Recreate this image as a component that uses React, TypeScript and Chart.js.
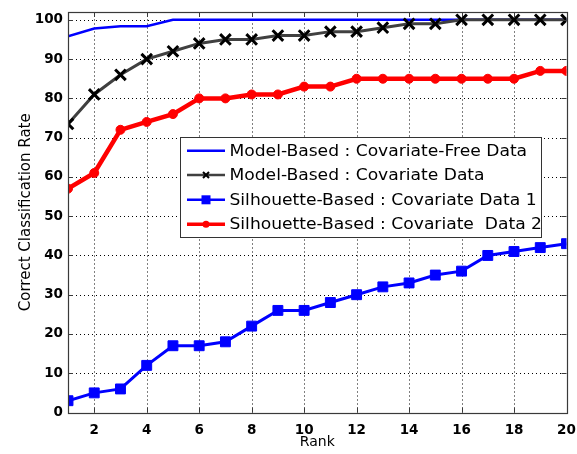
import React, { useEffect, useRef } from "react";
import { Chart, registerables } from "chart.js";

Chart.register(...registerables);

const ranks = [1, 2, 3, 4, 5, 6, 7, 8, 9, 10, 11, 12, 13, 14, 15, 16, 17, 18, 19, 20];
const modelFree = [95.8, 97.8, 98.4, 98.4, 100, 100, 100, 100, 100, 100, 100, 100, 100, 100, 100, 100, 100, 100, 100, 100];
const modelCov = [73.5, 81, 86, 90, 92, 94, 95, 95, 96, 96, 97, 97, 98, 99, 99, 100, 100, 100, 100, 100];
const silCov1 = [3, 5, 6, 12, 17, 17, 18, 22, 26, 26, 28, 30, 32, 33, 35, 36, 40, 41, 42, 43];
const silCov2 = [57, 61, 72, 74, 76, 80, 80, 81, 81, 83, 83, 85, 85, 85, 85, 85, 85, 85, 87, 87];
const seriesNames = [
  "Model-Based : Covariate-Free Data",
  "Model-Based : Covariate Data",
  "Silhouette-Based : Covariate Data 1",
  "Silhouette-Based : Covariate  Data 2",
];
const xTicks = [2, 4, 6, 8, 10, 12, 14, 16, 18, 20];
const yTicks = [0, 10, 20, 30, 40, 50, 60, 70, 80, 90, 100];

const FONT = "'DejaVu Sans', 'Liberation Sans', sans-serif";

const toXY = (vals: number[]) => vals.map((v, i) => ({ x: ranks[i], y: v }));

const framePlugin = {
  id: "frame",
  beforeDatasetsDraw(chart: any) {
    const { ctx, chartArea: a, scales } = chart;
    ctx.save();
    ctx.strokeStyle = "#000000";
    ctx.lineWidth = 1;
    ctx.setLineDash([1, 3]);
    ctx.beginPath();
    xTicks.forEach((t) => {
      const px = Math.round(scales.x.getPixelForValue(t)) + 0.5;
      ctx.moveTo(px, a.bottom);
      ctx.lineTo(px, a.top);
    });
    yTicks.forEach((t) => {
      const py = Math.round(scales.y.getPixelForValue(t)) + 0.5;
      ctx.moveTo(a.left, py);
      ctx.lineTo(a.right, py);
    });
    ctx.stroke();
    ctx.restore();
  },
  afterDatasetsDraw(chart: any) {
    const { ctx, chartArea: a, scales } = chart;
    ctx.save();
    ctx.strokeStyle = "#3a3a3a";
    ctx.lineWidth = 1;
    ctx.beginPath();
    const tl = 5;
    xTicks.forEach((t) => {
      const px = Math.round(scales.x.getPixelForValue(t)) + 0.5;
      ctx.moveTo(px, a.bottom);
      ctx.lineTo(px, a.bottom - tl);
      ctx.moveTo(px, a.top);
      ctx.lineTo(px, a.top + tl);
    });
    yTicks.forEach((t) => {
      const py = Math.round(scales.y.getPixelForValue(t)) + 0.5;
      ctx.moveTo(a.left, py);
      ctx.lineTo(a.left + tl, py);
      ctx.moveTo(a.right, py);
      ctx.lineTo(a.right - tl, py);
    });
    ctx.stroke();
    ctx.lineWidth = 1.2;
    ctx.strokeRect(Math.round(a.left) + 0.5, Math.round(a.top) + 0.5, Math.round(a.right - a.left), Math.round(a.bottom - a.top));
    ctx.restore();
  },
  afterDraw(chart: any) {
    const { ctx } = chart;
    const bx = 180.5, by = 137.5, bw = 361, bh = 100;
    ctx.save();
    ctx.fillStyle = "#ffffff";
    ctx.fillRect(bx, by, bw, bh);
    ctx.strokeStyle = "#333333";
    ctx.lineWidth = 1;
    ctx.strokeRect(bx, by, bw, bh);
    const rows = [150.7, 175, 199.8, 224.3];
    const x0 = 187, x1 = 225, xm = 206;
    rows.forEach((y, i) => {
      ctx.beginPath();
      if (i === 0) { ctx.strokeStyle = "#0000ff"; ctx.lineWidth = 2.5; }
      if (i === 1) { ctx.strokeStyle = "#404040"; ctx.lineWidth = 2.5; }
      if (i === 2) { ctx.strokeStyle = "#0000ff"; ctx.lineWidth = 2.5; }
      if (i === 3) { ctx.strokeStyle = "#ff0000"; ctx.lineWidth = 3.5; }
      ctx.moveTo(x0, y);
      ctx.lineTo(x1, y);
      ctx.stroke();
      if (i === 1) {
        ctx.strokeStyle = "#000000";
        ctx.lineWidth = 2;
        ctx.beginPath();
        ctx.moveTo(xm - 3, y - 3); ctx.lineTo(xm + 3, y + 3);
        ctx.moveTo(xm + 3, y - 3); ctx.lineTo(xm - 3, y + 3);
        ctx.stroke();
      }
      if (i === 2) {
        ctx.fillStyle = "#0000ff";
        ctx.fillRect(xm - 4.5, y - 4.5, 9, 9);
      }
      if (i === 3) {
        ctx.fillStyle = "#ff0000";
        ctx.beginPath();
        ctx.arc(xm, y, 3.5, 0, Math.PI * 2);
        ctx.fill();
      }
      ctx.save();
      ctx.translate(229.5, y + 1);
      ctx.scale(1.07, 1);
      ctx.fillStyle = "#000000";
      ctx.font = `16px ${FONT}`;
      ctx.textBaseline = "middle";
      ctx.textAlign = "left";
      ctx.fillText(seriesNames[i], 0, 0);
      ctx.restore();
    });
    ctx.restore();
  },
};

export default function App() {
  const ref = useRef<HTMLCanvasElement | null>(null);
  useEffect(() => {
    if (!ref.current) return;
    const chart = new Chart(ref.current, {
      type: "line",
      data: {
        datasets: [
          {
            label: seriesNames[0],
            data: toXY(modelFree),
            borderColor: "#0000ff",
            borderWidth: 2.5,
            pointRadius: 0,
            order: 4,
          },
          {
            label: seriesNames[1],
            data: toXY(modelCov),
            borderColor: "#404040",
            borderWidth: 3,
            pointStyle: "crossRot",
            pointRadius: 7.5,
            pointBorderColor: "#000000",
            pointBorderWidth: 3,
            order: 3,
          },
          {
            label: seriesNames[2],
            data: toXY(silCov1),
            borderColor: "#0000ff",
            borderWidth: 3,
            pointStyle: "rect",
            pointRadius: 7,
            pointBackgroundColor: "#0000ff",
            pointBorderColor: "#0000ff",
            pointBorderWidth: 1,
            order: 2,
          },
          {
            label: seriesNames[3],
            data: toXY(silCov2),
            borderColor: "#ff0000",
            borderWidth: 4.5,
            pointStyle: "circle",
            pointRadius: 4.5,
            pointBackgroundColor: "#ff0000",
            pointBorderColor: "#ff0000",
            pointBorderWidth: 1,
            order: 1,
          },
        ],
      },
      options: {
        animation: false,
        responsive: false,
        events: [],
        layout: { padding: { left: 0, top: 12, right: 10.3, bottom: 0 } },
        plugins: { legend: { display: false }, tooltip: { enabled: false } },
        scales: {
          x: {
            type: "linear",
            min: 1,
            max: 20,
            afterBuildTicks: (s: any) => {
              s.ticks = xTicks.map((v) => ({ value: v }));
            },
            afterFit: (s: any) => {
              s.height = 41.5;
              s.paddingLeft = 0;
              s.paddingRight = 0;
            },
            grid: { display: false, drawTicks: false },
            border: { display: false },
            ticks: {
              padding: 10,
              color: "#000000",
              font: { family: FONT, size: 13.5, weight: "bold" },
              maxRotation: 0,
            },
            title: {
              display: true,
              text: "Rank",
              color: "#000000",
              font: { family: FONT, size: 14 },
              padding: { top: 0, bottom: 3 },
            },
          },
          y: {
            type: "linear",
            min: 0,
            max: 102,
            afterBuildTicks: (s: any) => {
              s.ticks = yTicks.map((v) => ({ value: v }));
            },
            afterFit: (s: any) => {
              s.width = 68;
              s.paddingTop = 0;
              s.paddingBottom = 0;
            },
            grid: { display: false, drawTicks: false },
            border: { display: false },
            ticks: {
              padding: 5,
              color: "#000000",
              font: { family: FONT, size: 13.5, weight: "bold" },
            },
            title: {
              display: true,
              text: "Correct Classification Rate",
              color: "#000000",
              font: { family: FONT, size: 15 },
              padding: { top: 17, bottom: 0 },
            },
          },
        },
      },
      plugins: [framePlugin],
    });
    return () => chart.destroy();
  }, []);
  return (
    <div style={{ position: "fixed", left: 0, top: 0, width: 577, height: 454, background: "#fff" }}>
      <canvas ref={ref} width={577} height={454} style={{ display: "block" }} />
    </div>
  );
}
